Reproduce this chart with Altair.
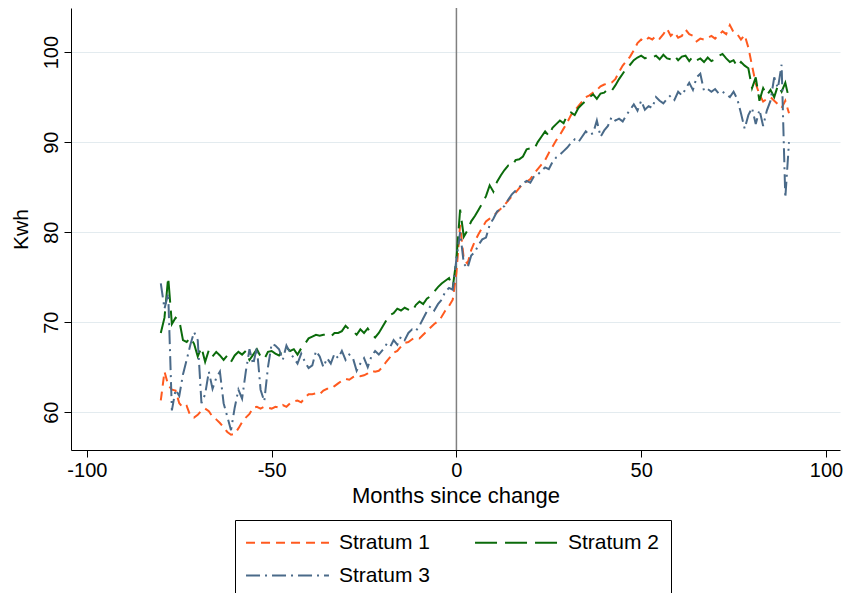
import altair as alt
import pandas as pd

months = list(range(-80, 91))

stratum1 = [
    61.3, 64.5, 63.0, 62.5, 62.4, 61.0, 60.5, 60.7, 59.6, 59.4,   # -80..-71
    59.7, 60.2, 60.4, 60.1, 59.5, 59.2, 58.8, 58.3, 57.8, 57.5,   # -70..-61
    57.6, 58.2, 58.9, 59.4, 59.8, 60.5, 60.6, 60.4, 60.6, 60.5,   # -60..-51
    60.4, 60.6, 60.5, 60.8, 60.6, 61.0, 61.2, 61.3, 61.1, 61.6,   # -50..-41
    62.0, 62.0, 62.1, 62.0, 62.4, 62.6, 62.6, 62.9, 63.2, 63.5,   # -40..-31
    63.7, 63.6, 63.9, 64.1, 64.0, 64.1, 64.3, 64.6, 64.5, 64.6,   # -30..-21
    65.0, 65.6, 66.1, 66.6, 66.8, 67.3, 67.7, 67.8, 68.1, 68.3,   # -20..-11
    68.2, 68.6, 69.0, 69.4, 69.8, 70.1, 70.6, 71.3, 71.8, 72.5,   # -10..-1
    75.5, 80.8, 77.0, 76.5, 78.0, 79.0, 79.8, 80.5, 81.2, 81.5,   # 0..9
    81.8, 82.2, 82.6, 83.0, 83.5, 84.0, 84.4, 84.9, 85.4, 85.6,   # 10..19
    85.9, 86.5, 87.0, 87.5, 88.0, 88.8, 89.5, 90.2, 90.8, 91.5,   # 20..29
    92.2, 93.0, 93.5, 94.0, 94.5, 95.0, 95.2, 95.5, 95.8, 96.2,   # 30..39
    96.4, 96.5, 96.6, 97.0, 97.8, 98.5, 99.0, 99.5, 100.2, 101.0, # 40..49
    101.4, 101.2, 101.6, 101.4, 101.8, 101.5, 102.0, 102.6, 101.8, 102.2,  # 50..59
    101.6, 101.8, 102.5, 102.0, 101.8, 101.2, 101.5, 101.4, 101.6, 101.8,  # 60..69
    101.5, 101.9, 102.3, 102.0, 103.0, 102.2, 102.0, 101.4, 101.9, 100.5,  # 70..79
    98.5, 96.5, 95.3, 94.5, 94.8, 95.0, 94.6, 94.2, 93.8, 94.6,   # 80..89
    93.2,                                                          # 90
]

stratum2 = [
    68.8, 70.5, 75.0, 69.8, 70.5, 70.2, 68.0, 67.8, 68.3, 67.6,
    66.2, 67.2, 65.6, 66.9, 66.2, 66.7, 66.3, 65.8, 66.3, 65.6,
    66.3, 66.7, 66.4, 66.8, 65.8, 66.4, 67.0, 66.2, 65.9, 66.7,
    66.8, 66.5, 66.3, 66.9, 67.2, 66.8, 67.0, 66.4, 67.1, 67.6,
    68.2, 68.4, 68.6, 68.5, 68.6, 68.6, 68.4, 68.8, 68.8, 69.0,
    69.6, 69.2, 69.0, 68.6, 69.2, 68.8, 69.3, 68.7, 68.3, 68.8,
    69.5, 70.2, 70.8, 71.0, 71.5, 71.3, 71.6, 71.4, 71.2, 71.9,
    72.3, 72.0, 72.6, 72.9, 73.4, 73.9, 74.3, 74.6, 74.9, 73.8,
    77.0, 82.5, 79.5, 80.2, 81.2, 81.8, 82.5, 83.2, 84.0, 85.2,
    84.5, 85.6, 86.3, 86.9, 87.4, 87.3, 88.0, 88.1, 88.4, 89.2,
    89.3, 89.2, 90.0, 90.6, 91.2, 90.7, 91.6, 92.0, 92.4, 92.1,
    93.0, 93.3, 93.0, 93.8, 94.2, 94.6, 95.0, 95.3, 94.8, 95.4,
    95.5, 95.9, 95.7, 96.3, 97.0, 97.6, 98.2, 98.6, 99.1, 99.4,
    99.6, 99.3, 99.5, 99.4, 99.6, 99.2, 99.7, 99.3, 99.2, 99.6,
    99.1, 99.5, 99.6, 99.0, 99.5, 99.1, 99.3, 98.9, 99.4, 99.0,
    99.2, 99.6, 99.8, 99.3, 98.9, 99.1, 98.4, 98.9, 98.5, 98.2,
    96.0, 97.2, 94.6, 96.0, 95.2, 95.8, 95.0, 96.3, 95.6, 96.6,
    94.8,
]

stratum3 = [
    74.3, 71.5, 73.2, 60.2, 62.5, 61.8, 64.2, 65.8, 67.5, 68.9,
    68.0, 61.0, 62.0, 64.5, 62.6, 63.8, 64.5, 61.0, 59.5, 58.0,
    60.5, 62.5, 61.5, 64.5, 67.0, 65.3, 67.2, 62.5, 61.2, 65.0,
    67.6, 67.4, 67.0, 65.8, 67.4, 66.6, 66.0, 65.4, 66.5, 65.6,
    64.9, 65.2, 66.8, 66.2, 65.0, 66.0, 65.4, 66.5, 66.0, 66.8,
    65.8, 66.4, 66.0, 64.6, 65.4, 66.0, 65.0, 66.2, 66.8, 66.4,
    66.9, 67.5, 67.2, 68.0, 67.5, 68.4, 68.0, 68.8, 69.2, 69.0,
    69.6, 70.4, 71.2, 71.8, 71.3, 72.0, 72.5, 73.4, 73.8, 73.6,
    77.0, 80.0, 76.5, 76.0, 77.4, 77.8, 78.6, 79.2, 79.4, 80.8,
    81.5, 82.3, 82.6, 82.9, 83.6, 84.2, 84.6, 85.0, 85.4, 85.7,
    85.5, 86.2, 86.4, 86.8, 87.2, 87.0, 87.8, 88.3, 88.6, 89.0,
    89.4, 89.9, 90.3, 90.0, 90.6, 91.2, 90.8, 91.0, 92.4, 90.6,
    91.3, 91.8, 92.8, 92.4, 92.6, 92.3, 93.0, 93.6, 94.2, 93.5,
    94.6, 93.6, 94.0, 93.8, 95.0, 94.6, 94.3, 94.8, 95.2, 94.7,
    95.6, 95.2, 95.9, 96.6, 95.8, 97.2, 97.6, 95.7, 95.9, 95.6,
    95.9, 95.4, 95.6, 95.3, 95.0, 95.6, 94.8, 93.2, 91.5, 93.0,
    93.8, 92.0, 93.6, 91.8, 93.5, 94.6, 97.2, 96.0, 98.6, 83.8,
    90.0,
]

series_names = ["Stratum 1", "Stratum 2", "Stratum 3"]
series_colors = ["#FF5A1F", "#0B6B0B", "#4A6A89"]
series_dashes = [[9, 6], [22, 8], [14, 5, 2, 5]]
x_ticks = [-100, -50, 0, 50, 100]
y_ticks = [60, 70, 80, 90, 100]

rows = []
for name, vals in zip(series_names, [stratum1, stratum2, stratum3]):
    for m, v in zip(months, vals):
        rows.append({"month": m, "kwh": v, "series": name})
df = pd.DataFrame(rows)

FONT = "Liberation Sans"

x_enc = alt.X(
    "month:Q",
    scale=alt.Scale(domain=[-104.3, 103.8], nice=False, zero=False),
    axis=alt.Axis(
        values=x_ticks, title="Months since change", grid=False,
        labelExpr="'' + datum.value",
        labelFontSize=20, titleFontSize=22, tickSize=7, labelPadding=3,
        titlePadding=5, domainColor="black", tickColor="black",
        labelColor="black", titleColor="black", labelFont=FONT,
        titleFont=FONT, titleFontWeight="normal", labelFlush=False,
    ),
)
y_enc = alt.Y(
    "kwh:Q",
    scale=alt.Scale(domain=[55.8, 104.9], nice=False, zero=False),
    axis=alt.Axis(
        values=y_ticks, title="Kwh", grid=True, gridColor="#E3EBEF",
        gridWidth=1.2, labelAngle=270, labelAlign="center",
        labelBaseline="bottom", labelFontSize=20, titleFontSize=21,
        tickSize=7, labelPadding=3, titlePadding=10, domainColor="black",
        tickColor="black", labelColor="black", titleColor="black",
        labelFont=FONT, titleFont=FONT, titleFontWeight="normal",
        labelFlush=False,
    ),
)

legend = alt.Legend(
    title=None, orient="none", legendX=164, legendY=512, columns=2,
    direction="horizontal",
    symbolType="M-4,0H4", symbolSize=430, symbolStrokeWidth=2,
    symbolOffset=30,
    labelFontSize=21, labelFont=FONT, labelColor="black", labelOffset=40,
    columnPadding=40, rowPadding=11, padding=11, strokeColor="black",
    labelLimit=300,
)

lines = alt.Chart(df).mark_line(strokeWidth=2).encode(
    x=x_enc,
    y=y_enc,
    color=alt.Color("series:N", scale=alt.Scale(domain=series_names, range=series_colors), legend=legend),
    strokeDash=alt.StrokeDash("series:N", scale=alt.Scale(domain=series_names, range=series_dashes), legend=legend),
    order="month:Q",
)

vline = alt.Chart(pd.DataFrame({"month": [0]})).mark_rule(color="#808080", strokeWidth=1.5).encode(
    x=alt.X("month:Q")
)

chart = alt.layer(vline, lines).properties(
    width=769, height=442,
    autosize=alt.AutoSizeParams(type="none"),
    padding={"left": 71, "top": 8, "right": 9, "bottom": 143},
    background="white",
).configure_view(stroke=None)

chart.save("out.html", embed_options={"renderer": "svg", "actions": False})
